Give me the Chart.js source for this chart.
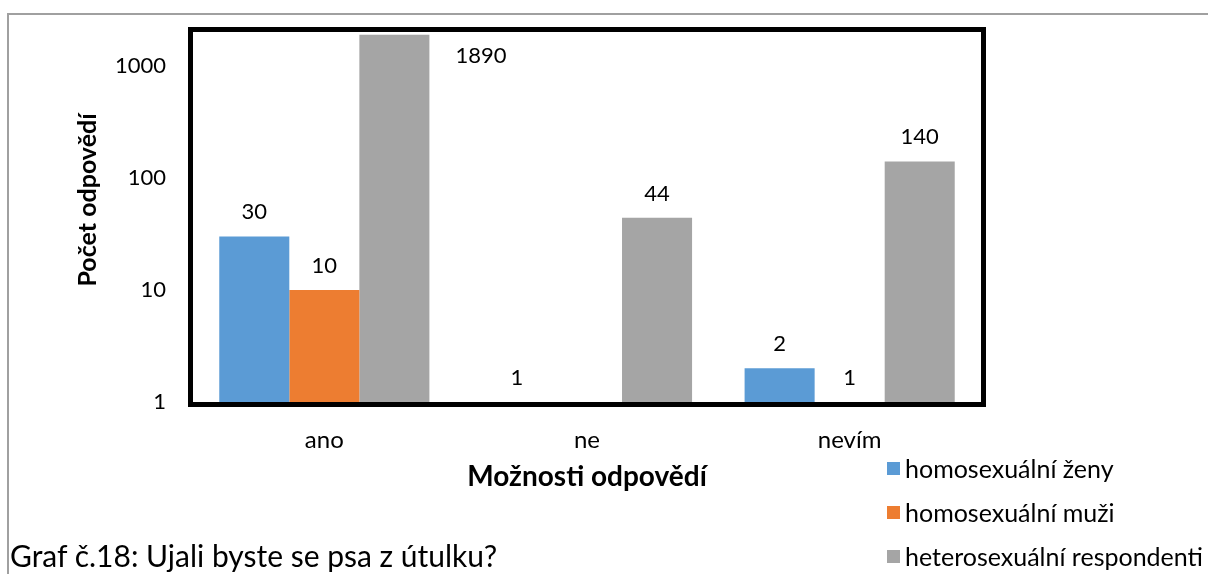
<!DOCTYPE html>
<html lang="cs">
<head>
    <meta charset="UTF-8">
    <title>Graf č.18</title>
    <script src="https://cdn.jsdelivr.net/npm/chart.js"></script>
    <style>
        body { margin: 0; background: #fff; font-family: Lato, sans-serif; }
        #wrap { position: relative; width: 1208px; height: 574px; overflow: hidden; }
        #frame { position: absolute; left: 7px; top: 13px; width: 1300px; height: 700px; border: 2px solid #a0a0a0; }
        #chartBox { position: absolute; left: 0; top: 0; width: 1208px; height: 574px; }
        #legend { position: absolute; left: 887px; top: 446px; }
        .item { height: 44px; display: flex; align-items: center; font-size: 25px; color: #000; white-space: nowrap; }
        .sw { width: 13px; height: 13px; margin-right: 5px; }
        #caption { position: absolute; left: 10px; top: 537px; font-size: 30px; color: #000; white-space: nowrap; }
    </style>
</head>
<body>
<div id="wrap">
    <div id="frame"></div>
    <div id="chartBox"><canvas id="c"></canvas></div>
    <div id="legend"></div>
    <div id="caption">Graf č.18: Ujali byste se psa z útulku?</div>
</div>
<script>
const categories = ['ano', 'ne', 'nevím'];
const zenyValues = [30, 1, 2];
const muziValues = [10, null, 1];
const heteroValues = [1890, 44, 140];
const yTicks = [1, 10, 100, 1000];

const font = 'Lato, sans-serif';

// frame round the plot, y title and value labels
const extras = {
    id: 'extras',
    afterDraw(chart) {
        const ctx = chart.ctx;
        const a = chart.chartArea;
        ctx.save();
        ctx.strokeStyle = '#000';
        ctx.lineWidth = 5;
        ctx.strokeRect(a.left - 2.5, a.top - 2.5, a.right - a.left + 5, a.bottom - a.top + 5);

        ctx.fillStyle = '#000';
        ctx.font = 'bold 25px ' + font;
        ctx.translate(88, 200);
        ctx.rotate(-Math.PI / 2);
        ctx.textAlign = 'center';
        ctx.textBaseline = 'middle';
        ctx.fillText('Počet odpovědí', 0, 0);
        ctx.restore();

        ctx.save();
        ctx.font = '22px ' + font;
        ctx.fillStyle = '#000';
        ctx.textBaseline = 'alphabetic';
        chart.data.datasets.forEach((ds, i) => {
            chart.getDatasetMeta(i).data.forEach((bar, j) => {
                const v = ds.data[j];
                if (v == null) return;
                let y = bar.y - 17;
                if (y - 18 < a.top) {
                    ctx.textAlign = 'left';
                    ctx.fillText(String(v), bar.x + bar.width / 2 + 26, a.top + 31);
                } else {
                    ctx.textAlign = 'center';
                    ctx.fillText(String(v), bar.x, y);
                }
            });
        });
        ctx.restore();
    }
};

const chart = new Chart(document.getElementById('c'), {
    type: 'bar',
    data: {
        labels: categories,
        datasets: [
            { label: 'homosexuální ženy', data: zenyValues, backgroundColor: '#5B9BD5' },
            { label: 'homosexuální muži', data: muziValues, backgroundColor: '#ED7D31' },
            { label: 'heterosexuální respondenti', data: heteroValues, backgroundColor: '#A5A5A5' }
        ]
    },
    options: {
        responsive: true,
        maintainAspectRatio: false,
        animation: false,
        layout: { padding: { left: 0, top: 32, right: 227, bottom: 0 } },
        datasets: { bar: { categoryPercentage: 0.8, barPercentage: 1.0 } },
        plugins: { legend: { display: false }, tooltip: { enabled: false } },
        scales: {
            x: {
                grid: { display: false, drawTicks: false },
                border: { display: false },
                ticks: { color: '#000', font: { family: font, size: 24 }, padding: 24 },
                title: { display: true, text: 'Možnosti odpovědí', color: '#000',
                         font: { family: font, size: 28, weight: 'bold' }, padding: { top: 0, bottom: 80 } },
                afterFit: s => { s.height = 172; s.paddingLeft = 0; s.paddingRight = 0; }
            },
            y: {
                type: 'logarithmic',
                min: 1,
                max: 2000,
                grid: { display: false, drawTicks: false },
                border: { display: false },
                ticks: { color: '#000', font: { family: font, size: 22 }, padding: 27, callback: v => String(v) },
                afterBuildTicks: s => { s.ticks = yTicks.map(v => ({ value: v })); },
                afterFit: s => { s.width = 193; s.paddingTop = 0; s.paddingBottom = 0; }
            }
        }
    },
    plugins: [extras]
});

const legend = document.getElementById('legend');
chart.data.datasets.forEach(ds => {
    const row = document.createElement('div');
    row.className = 'item';
    row.innerHTML = '<div class="sw" style="background:' + ds.backgroundColor + '"></div>' + ds.label;
    legend.appendChild(row);
});
</script>
</body>
</html>
